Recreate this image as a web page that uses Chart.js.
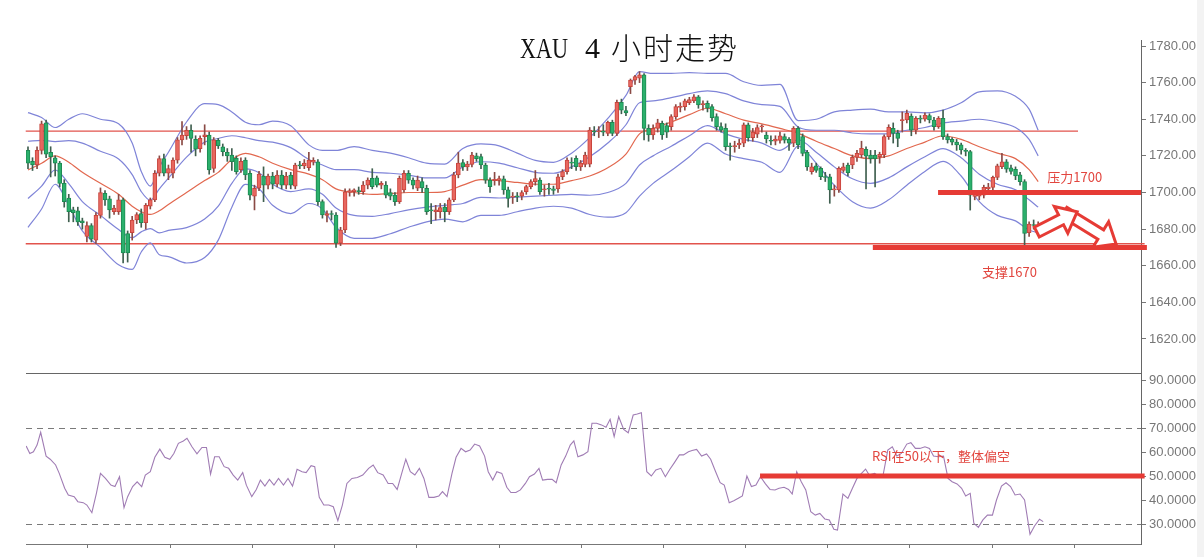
<!DOCTYPE html>
<html>
<head>
<meta charset="utf-8">
<title>XAU 4 小时走势</title>
<script src="https://cdn.jsdelivr.net/npm/chart.js@4.4.1/dist/chart.umd.min.js"></script>
<style>
  html, body { margin: 0; padding: 0; background: #fff; }
  #wrap { position: relative; width: 1204px; height: 557px; overflow: hidden; background: #fff; }
  canvas { position: absolute; left: 0; top: 0; }
  .t { position: absolute; white-space: nowrap; color: #111; line-height: 30px; }
  .lat { font-family: "Liberation Serif", "DejaVu Serif", serif; font-size: 30px; }
  .cjk { font-family: "Noto Sans CJK SC", sans-serif; font-size: 30px; font-weight: 300; letter-spacing: 2px; }
  #edge { position: absolute; left: 1197px; top: 0; width: 7px; height: 557px; background: #f3f3f3; }
</style>
</head>
<body>
<div id="wrap">
  <canvas id="price" width="1204" height="557"></canvas>
  <canvas id="rsi" width="1204" height="557"></canvas>
  <div id="edge"></div>
  <span class="t lat" style="left:520px; top:33px; transform:scaleX(0.74); transform-origin:left;">XAU</span>
  <span class="t lat" style="left:585px; top:33px;">4</span>
  <span class="t cjk" style="left:611px; top:31px;">小时走势</span>
</div>
<script>
// 4h candles, index 0 = first bar on the left
const opens = [
  1723, 1717, 1715, 1723, 1738, 1722, 1719, 1716, 1705, 1697,
  1690.5, 1690, 1684.5, 1676, 1682, 1674, 1687.5, 1699.5, 1696.5, 1689.5,
  1689.5, 1696, 1677.5, 1678, 1685, 1688.5, 1683.5, 1692.5, 1696, 1710.5,
  1718.5, 1710.5, 1710.5, 1717.7, 1728.7, 1731, 1734, 1729, 1724, 1730.5,
  1731.4, 1713.2, 1728.5, 1725, 1722, 1720.5, 1718.7, 1712.5, 1717.7, 1710.5,
  1698, 1702.3, 1709, 1704, 1709, 1704.5, 1709.5, 1704, 1709.5, 1703.5,
  1715, 1714.5, 1713.5, 1716.5, 1716.8, 1695, 1687.5, 1688.5, 1687.7, 1672.3,
  1679.5, 1700, 1700.5, 1701, 1700.4, 1704, 1707.8, 1708, 1704, 1704,
  1700, 1698.6, 1695, 1701.4, 1710.5, 1706.8, 1702.3, 1706, 1702.3, 1690.5,
  1689.5, 1689.5, 1692, 1689.5, 1696, 1709.6, 1716.3, 1714, 1715.4, 1720,
  1719.6, 1715, 1706.8, 1706.5, 1706.8, 1707.4, 1701.4, 1697.5, 1698, 1698,
  1700.4, 1703.2, 1705.9, 1706.8, 1701.5, 1702, 1702, 1701.9, 1708.6, 1711.4,
  1716.5, 1718.7, 1714, 1715.4, 1715.5, 1733.6, 1733.2, 1733.5, 1732.3, 1738.3,
  1732.3, 1749.3, 1744.8, 1757.8, 1761.4, 1762.4, 1764.2, 1735, 1731.5, 1735,
  1737.8, 1736.5, 1736, 1741.4, 1746.5, 1746.9, 1749, 1750, 1752.3, 1748,
  1748.7, 1746.9, 1741.4, 1736, 1735, 1725.3, 1725, 1726, 1726.9, 1736.9,
  1730, 1731.8, 1735.8, 1731.4, 1728.4, 1728, 1728.5, 1730.5, 1729, 1726.9,
  1735, 1730.5, 1722, 1711.4, 1714.5, 1713.2, 1708.6, 1708.6, 1701.4, 1701.4,
  1712, 1715, 1715, 1719.2, 1720.5, 1723.6, 1720.5, 1720.5, 1719.5, 1720.5,
  1730.5, 1735, 1732.3, 1739.2, 1739.6, 1741.8, 1734.1, 1740.4, 1740, 1742,
  1739.6, 1736, 1740.5, 1730.5, 1729, 1727.5, 1726, 1722.8, 1722.3, 1697.8,
  1698, 1698.6, 1702, 1702.8, 1708.3, 1714.1, 1716.8, 1713.5, 1712.7, 1709.6,
  1705.9, 1678, 1682.5, 1681.5
];
const highs = [
  1725, 1719, 1725, 1739, 1739.5, 1725, 1720, 1717, 1707, 1699,
  1692, 1692, 1686, 1684, 1683, 1689, 1702.5, 1701, 1698, 1693,
  1699, 1697, 1679, 1687, 1689, 1691, 1694, 1697, 1712, 1720,
  1721, 1715, 1719, 1730, 1738.7, 1736, 1737, 1731, 1731, 1737,
  1733, 1730, 1729.5, 1726.5, 1724, 1724, 1720, 1719, 1719, 1712,
  1704, 1711.5, 1714, 1710, 1711, 1712, 1712, 1711, 1711, 1716,
  1717, 1718, 1722, 1719, 1718, 1696, 1690, 1690, 1689, 1681,
  1702, 1702, 1702, 1703, 1706, 1708, 1713, 1709, 1706, 1706,
  1702, 1700, 1709, 1712, 1712, 1708, 1709, 1708, 1704, 1694,
  1693, 1694, 1694, 1697, 1711, 1722, 1718, 1717, 1722, 1721.5,
  1721, 1716, 1708, 1711, 1709, 1709, 1703, 1700, 1700, 1701,
  1704, 1707, 1712, 1708, 1704, 1705, 1703.5, 1710, 1712.5, 1719,
  1719, 1720, 1717.5, 1722, 1735.5, 1736, 1736, 1737, 1739, 1739.5,
  1750.5, 1751, 1747, 1762, 1764, 1766, 1765, 1737, 1737, 1740,
  1739, 1738, 1742.5, 1748, 1749, 1751, 1752, 1753.5, 1753, 1750,
  1750, 1748, 1743, 1738, 1737.5, 1727, 1728, 1729, 1738, 1738,
  1735, 1737, 1737, 1733, 1731, 1731, 1733, 1732, 1730, 1736,
  1736, 1732, 1723, 1716, 1716, 1714, 1711, 1710, 1704, 1714,
  1716, 1716, 1720.5, 1723, 1728, 1725, 1723, 1723, 1722, 1731.5,
  1737, 1738, 1734, 1744, 1745, 1743, 1741.5, 1742, 1743.5, 1743,
  1741, 1741.5, 1745, 1732, 1730, 1729, 1727, 1724, 1723, 1701,
  1701, 1704, 1705, 1709, 1715.5, 1721.4, 1718, 1715, 1714, 1711,
  1707, 1684, 1685, 1684
];
const lows = [
  1713, 1712, 1713, 1721, 1719, 1708.5, 1709, 1703, 1692, 1684,
  1684, 1682, 1680, 1673, 1673, 1672, 1686, 1693, 1686, 1688,
  1688, 1661.5, 1662, 1674, 1683, 1681, 1680, 1691, 1695, 1709,
  1709, 1707, 1708, 1716, 1726, 1729, 1722, 1720, 1722, 1726,
  1710, 1711, 1724, 1720, 1717, 1712, 1710, 1711, 1707, 1696,
  1690.5, 1701, 1695, 1702, 1702, 1703, 1702, 1702, 1702, 1702,
  1713, 1713, 1712, 1715, 1693, 1686, 1684, 1685, 1670, 1671,
  1678, 1698, 1698, 1699, 1699, 1702, 1702, 1703, 1702, 1697,
  1696, 1693, 1694, 1700, 1705, 1702, 1701, 1700, 1688, 1683,
  1685, 1686, 1684, 1688, 1695, 1708, 1712, 1712, 1714, 1717,
  1713, 1705, 1700, 1704, 1704, 1699, 1692, 1694, 1695, 1696,
  1699, 1702, 1704, 1699, 1698, 1699, 1699, 1700, 1707, 1710,
  1713, 1712, 1712, 1714, 1714, 1731, 1730, 1731, 1731, 1731,
  1731, 1743, 1742, 1754, 1759, 1760, 1728.7, 1728, 1729, 1733,
  1729, 1730, 1734, 1740, 1744, 1745, 1748, 1749, 1746, 1745,
  1744, 1739, 1734, 1733, 1723, 1717.7, 1722, 1724, 1725, 1728,
  1728, 1730, 1733, 1727, 1726, 1726, 1727, 1727, 1723, 1725,
  1724, 1720, 1712, 1710, 1711, 1707, 1706, 1694.1, 1698, 1700,
  1711, 1709, 1713, 1717, 1719, 1702, 1716, 1703, 1716, 1719,
  1729, 1727, 1725, 1733, 1738, 1731, 1732, 1738, 1739, 1738,
  1734, 1735, 1729, 1727, 1726, 1723, 1721, 1720, 1690.4, 1696,
  1696, 1697, 1700, 1701, 1707, 1713, 1711, 1710, 1707, 1704,
  1670.4, 1676, 1680, 1680
];
const closes = [
  1716, 1715, 1723, 1737.5, 1721, 1719.5, 1716, 1705, 1695, 1689.5,
  1689, 1684, 1683.5, 1682, 1674.5, 1687.5, 1700, 1696, 1690.5, 1691.5,
  1696, 1667, 1667, 1685, 1688, 1683.5, 1693, 1696, 1710.5, 1718.5,
  1710.5, 1713, 1717.7, 1728.7, 1731.4, 1734, 1729.6, 1723.6, 1729.6, 1731.5,
  1712.3, 1728.7, 1725.5, 1722.3, 1720, 1716.8, 1711.4, 1717, 1709.6, 1698.6,
  1702.3, 1710, 1704, 1709, 1704.5, 1709.5, 1704, 1709, 1704, 1715,
  1714.5, 1716, 1717.7, 1717.5, 1695, 1687.7, 1688.5, 1688, 1672.3, 1679.5,
  1700.4, 1701, 1701.5, 1700.4, 1704, 1706.8, 1703.2, 1704, 1705, 1698.6,
  1698, 1695, 1707.8, 1710.5, 1706.8, 1704, 1706.8, 1702.5, 1689.5, 1690,
  1690.5, 1691.7, 1689.5, 1696, 1709.6, 1716, 1714, 1715.5, 1720.5, 1718.5,
  1715, 1706.8, 1703.2, 1707.2, 1707.6, 1701.4, 1696.8, 1697.8, 1697.6, 1700,
  1703.2, 1705.9, 1707.6, 1700.4, 1702, 1701.8, 1701.2, 1708.6, 1711.4, 1717.7,
  1716, 1714.1, 1716, 1720.5, 1734.1, 1733.2, 1733.6, 1733, 1738.3, 1732.3,
  1749.3, 1745, 1743.5, 1761.4, 1763.3, 1764.2, 1735, 1731.4, 1735, 1738,
  1731.4, 1733, 1741.4, 1746.9, 1746.9, 1750, 1750.8, 1752.3, 1747.8, 1748.3,
  1746, 1740.8, 1736, 1734, 1725, 1725, 1725.6, 1727, 1736.9, 1730,
  1733, 1735.4, 1736.2, 1729.2, 1728, 1729.2, 1731, 1728.6, 1727, 1735,
  1726, 1721.4, 1714, 1714, 1712, 1708.6, 1708.2, 1701.4, 1701.8, 1713.2,
  1714, 1710.8, 1719.2, 1721.4, 1724.1, 1719.9, 1718.5, 1718.5, 1720.8, 1730.5,
  1735.6, 1732.3, 1729.6, 1739.8, 1743.2, 1734.1, 1740.5, 1740.1, 1742.3, 1739.6,
  1736, 1740.5, 1730.5, 1728.7, 1727.5, 1726, 1723.2, 1722.5, 1698.6, 1698.8,
  1699.5, 1702.8, 1703, 1708.3, 1714.5, 1716.8, 1712.7, 1711.5, 1709, 1705.9,
  1677.7, 1682.8, 1682, 1682.3
];

// Bollinger lines read at these bar indexes
const bbIdx = [0,3,6,9,12, 16,20,23,25,27, 29,31,35,39,42, 45,48,51,54,58,
  62,65,68,72,76, 80,84,88,92,96, 100,104,108,112,116, 120,124,128,132,135,
  138,142,146,150,154, 158,162,166,170,174, 178,182,186,190,194, 198,202,206,210,214,
  218,221,223];
const bbMid = [1712.3,1716,1720,1716.5,1711, 1705,1699,1692.5,1689.5,1688, 1690,1693.5,1700,1706.5,1711, 1718,1721.4,1719.5,1716,1712.5,
  1710,1707,1702,1700,1699, 1699.5,1700,1700,1700.5,1704, 1707,1706.5,1705.5,1704.5,1704.5, 1706.5,1709,1713.5,1721,1732,
  1735,1738.5,1742.5,1746,1743, 1739.5,1737.5,1735,1732.3,1728, 1724,1720,1718.5,1720,1724, 1727.5,1731,1729,1725,1721.5,
  1718.5,1712.5,1706];
const bbUpper2 = [1743.6,1741,1735.5,1740,1743, 1740,1737.5,1727,1711.5,1703.5, 1714,1722,1738.5,1748.5,1748, 1744,1738.4,1737,1739,1736.5,
  1726,1723,1723,1725,1723, 1721.5,1719,1716,1715.5,1724, 1726.5,1725.5,1721.5,1717.5,1716.5, 1721.5,1730,1740.5,1753,1766,
  1765,1765,1765.5,1765,1765, 1760.5,1758.5,1759,1739.3,1740, 1744,1745,1745.5,1744,1744, 1743.5,1745,1749,1755,1755.5,
  1752.5,1745.5,1734];
const bbUpper1 = [1728,1728.5,1727.8,1728.3,1727, 1722.5,1718.3,1709.8,1700.5,1695.8, 1702,1707.8,1719.3,1727.5,1729.5, 1731,1729.9,1728.3,1727.5,1724.5,
  1718,1715,1712.5,1712.5,1711, 1710.5,1709.5,1708,1708,1714, 1716.8,1716,1713.5,1711,1710.5, 1714,1719.5,1727,1737,1749,
  1750,1751.8,1754,1755.5,1754, 1750,1748,1747,1735.8,1734, 1734,1732.5,1732,1732,1734, 1735.5,1738,1739,1740,1738.5,
  1735.5,1729,1720];
const bbLower1 = [1696.7,1703.5,1712.3,1704.8,1695, 1687.5,1679.8,1675.3,1678.5,1680.3, 1678,1679.3,1680.8,1685.5,1692.5, 1705,1712.9,1710.8,1704.5,1700.5,
  1702,1699,1691.5,1687.5,1687, 1688.5,1690.5,1692,1693,1694, 1697.3,1697,1697.5,1698,1698.5, 1699,1698.5,1700,1705,1715,
  1720,1725.3,1731,1736.5,1732, 1729,1727,1723,1728.8,1722, 1714,1707.5,1705,1708,1714, 1719.5,1724,1719,1710,1704.5,
  1701.5,1696,1692];
const bbLower2 = [1681,1691,1704.5,1693,1679, 1670,1660.5,1658,1667.5,1672.5, 1666,1665,1661.5,1664.5,1674, 1692,1704.4,1702,1693,1688.5,
  1694,1691,1681,1675,1675, 1677.5,1681,1684,1685.5,1684, 1687.5,1687.5,1689.5,1691.5,1692.5, 1691.5,1688,1686.5,1689,1698,
  1705,1712,1719.5,1727,1721, 1718.5,1716.5,1711,1725.3,1716, 1704,1695,1691.5,1696,1704, 1711.5,1717,1709,1695,1687.5,
  1684.5,1679.5,1678];

// RSI line, read at these bar positions
const rsiIdx = [-0.4,0.4,1.2,2.0,2.8,4.0,4.9,6.1,6.9,8.1, 8.9,10.2,11.0,12.2,13.0,14.1,15.1,16.0,17.1,18.3,
  19.2,20.2,21.2,22.0,23.1,24.1,25.1,25.9,27.0,28.0, 29.1,30.2,31.3,32.2,33.2,34.3,35.1,36.2,37.3,38.4,
  39.4,40.3,41.2,42.2,43.3,44.3,45.3,46.3,47.4,48.2, 49.4,50.4,51.3,52.3,53.3,54.3,55.3,56.4,57.4,58.4,
  59.4,60.5,61.4,62.5,63.3,64.3,65.3,66.4,67.4,68.4, 69.4,70.4,71.5,72.7,73.9,75.2,76.2,77.2,78.4,79.5,
  80.5,81.5,82.5,83.4,84.4,85.4,86.4,87.4,88.5,89.6, 90.7,91.5,92.5,93.6,94.5,95.6,96.6,97.6,98.6,99.7,
  100.8,101.6,102.6,103.5,104.6,105.7,106.6,107.7,108.7,109.8, 110.7,111.8,112.8,113.6,114.7,115.7,116.6,117.7,118.7,119.7,
  120.5,121.4,122.5,123.6,124.5,125.5,126.6,127.6,128.5,129.4, 130.4,131.5,132.5,133.6,134.5,135.4,136.6,137.6,138.6,139.7,
  140.7,141.7,142.7,143.8,144.7,145.8,146.6,147.6,148.7,149.8, 150.7,151.8,152.8,153.7,154.8,155.8,156.8,157.7,158.7,159.7,
  160.7,161.7,162.8,163.8,164.9,165.8,166.9,167.9,168.7,169.7, 170.7,171.7,172.8,173.8,174.8,175.9,176.9,177.9,178.7,179.9,
  181.0,182.0,183.0,184.0,184.9,185.7,186.9,188.0,188.7,189.8, 190.8,191.8,192.8,194.0,194.9,195.9,196.9,198.0,199.0,199.9,
  201.0,202.1,203.1,204.0,205.1,206.1,207.0,208.0,208.8,209.8, 210.8,211.8,212.9,213.8,214.9,215.9,216.9,217.9,219.0,220.0,
  221.2,222.2,223.3,224.1];
const rsiVals = [62.5,59.4,60.1,62.9,68.2,58.3,57.0,54.6,51.1,44.9, 42.1,41.4,39.3,38.9,37.9,34.7,42.8,51.1,49.0,46.2,
  45.6,49.7,36.8,41.4,45.6,47.6,45.6,50.4,51.8,57.8, 61.2,57.8,57.0,59.4,63.6,64.6,65.7,62.2,59.2,61.9,
  61.9,50.8,58.0,58.0,53.9,53.2,50.4,48.3,51.4,46.2, 41.4,44.4,48.3,45.8,48.6,46.2,49.0,46.2,49.0,45.8,
  52.8,51.8,51.4,54.3,53.9,41.1,37.9,37.9,37.2,31.4, 37.9,46.9,49.0,49.4,50.4,53.2,54.6,51.4,50.4,46.9,
  46.9,44.4,51.1,57.0,51.8,50.4,53.2,49.0,41.1,41.1, 41.7,43.5,41.4,51.1,57.8,61.5,60.1,60.8,63.3,62.5,
  58.3,51.8,48.3,51.8,51.1,45.3,43.1,43.1,44.2,46.9, 49.7,50.8,53.2,48.3,48.6,48.6,47.2,54.6,58.3,62.9,
  64.6,58.0,58.8,60.1,72.0,72.0,71.3,70.3,73.6,66.4, 74.7,69.4,68.0,75.4,75.8,76.4,51.8,50.0,52.5,53.2,
  49.7,52.8,55.6,58.8,58.8,60.1,60.6,61.1,58.3,59.2, 57.0,51.8,47.2,46.2,38.9,39.7,40.7,41.7,50.0,45.6,
  46.2,49.7,46.7,44.4,44.2,44.9,45.3,44.4,42.5,51.8, 47.6,44.2,35.1,33.7,34.4,32.1,31.7,27.8,27.5,42.5,
  40.7,44.9,49.0,51.1,52.9,50.4,51.1,49.7,49.7,60.8, 62.2,58.3,59.4,63.3,63.9,61.5,61.5,62.2,61.5,58.3,
  58.0,58.3,49.0,47.6,46.7,44.9,41.7,42.8,30.3,28.6, 31.7,33.7,33.7,40.0,45.8,47.2,45.6,42.1,42.5,40.0,
  25.7,29.2,32.0,31.0];

const priceTicks = [1620, 1640, 1660, 1680, 1700, 1720, 1740, 1760, 1780];
const rsiTicks = [30, 40, 50, 60, 70, 80, 90];
const timeTicks = [13.2, 31.4, 49.5, 67.7, 85.8, 104, 122.1, 140.3, 158.4, 176.6, 194.7, 212.9, 231];

// drawn levels / notes (bar index, value)
const channel = [ { v: 1733.5, from: -0.5, to: 231.8 }, { v: 1672, from: -0.5, to: 246.5 } ];
const levels = [ { v: 1700, from: 200.9, to: 245.7 }, { v: 1670, from: 186.5, to: 247 } ];
const notes = [ { text: '压力1700', i: 225, v: 1708.6 }, { text: '支撑1670', i: 210.6, v: 1656.4 } ];
const arrows = [
  { from: [228.7, 1689.4], to: [240.2, 1671.9] },
  { from: [222.7, 1678.4], to: [231.6, 1689.5] }
];
const rsiLevel = { v: 50, from: 161.6, to: 246.5 };
const rsiNote = { text: 'RSI在50以下，整体偏空', i: 186.3, v: 58.3 };
const rsiGuides = [70, 30];

const X_MIN = -0.44, X_MAX = 245.7;
const RED = '#e63b35';

const up = closes.map((c, i) => c >= opens[i]);
const bodies = opens.map((o, i) => ({ x: i, y: [o, closes[i]] }));
const wicks = lows.map((l, i) => ({ x: i, y: [l, highs[i]] }));
const band = vals => vals.map((v, k) => ({ x: bbIdx[k], y: v }));

function drawArrow(ctx, x0, y0, x1, y1) {
  const dx = x1 - x0, dy = y1 - y0, len = Math.hypot(dx, dy);
  const ux = dx / len, uy = dy / len, nx = -uy, ny = ux;
  const s = 5.5, h = 15, L = 18;
  const bx = x1 - ux * L, by = y1 - uy * L;
  ctx.beginPath();
  ctx.moveTo(x0 + nx * s, y0 + ny * s);
  ctx.lineTo(bx + nx * s, by + ny * s);
  ctx.lineTo(bx + nx * h, by + ny * h);
  ctx.lineTo(x1, y1);
  ctx.lineTo(bx - nx * h, by - ny * h);
  ctx.lineTo(bx - nx * s, by - ny * s);
  ctx.lineTo(x0 - nx * s, y0 - ny * s);
  ctx.closePath();
  ctx.fillStyle = '#fff';
  ctx.fill();
  ctx.stroke();
}

const priceMarks = {
  id: 'priceMarks',
  beforeDatasetsDraw(chart) {
    const { ctx, scales: { x, y } } = chart;
    ctx.save();
    ctx.strokeStyle = '#e2534c';
    ctx.lineWidth = 1.4;
    channel.forEach(l => {
      ctx.beginPath();
      ctx.moveTo(x.getPixelForValue(l.from), y.getPixelForValue(l.v));
      ctx.lineTo(x.getPixelForValue(l.to), y.getPixelForValue(l.v));
      ctx.stroke();
    });
    ctx.restore();
  },
  afterDatasetsDraw(chart) {
    const { ctx, scales: { x, y } } = chart;
    ctx.save();
    ctx.strokeStyle = RED;
    ctx.lineWidth = 5;
    levels.forEach(l => {
      ctx.beginPath();
      ctx.moveTo(x.getPixelForValue(l.from), y.getPixelForValue(l.v));
      ctx.lineTo(x.getPixelForValue(l.to), y.getPixelForValue(l.v));
      ctx.stroke();
    });
    ctx.lineWidth = 3;
    ctx.lineJoin = 'miter';
    arrows.forEach(a => drawArrow(ctx,
      x.getPixelForValue(a.from[0]), y.getPixelForValue(a.from[1]),
      x.getPixelForValue(a.to[0]), y.getPixelForValue(a.to[1])));
    ctx.fillStyle = '#e2463f';
    ctx.font = '13px "Noto Sans CJK SC", sans-serif';
    ctx.textBaseline = 'middle';
    notes.forEach(n => ctx.fillText(n.text, x.getPixelForValue(n.i), y.getPixelForValue(n.v)));
    ctx.restore();
  }
};

const rsiMarks = {
  id: 'rsiMarks',
  beforeDatasetsDraw(chart) {
    const { ctx, chartArea, scales: { y } } = chart;
    ctx.save();
    ctx.strokeStyle = '#7a7a7a';
    ctx.lineWidth = 1;
    ctx.setLineDash([6, 5]);
    rsiGuides.forEach(v => {
      const py = Math.round(y.getPixelForValue(v)) + 0.5;
      ctx.beginPath();
      ctx.moveTo(chartArea.left, py);
      ctx.lineTo(chartArea.right, py);
      ctx.stroke();
    });
    ctx.restore();
  },
  afterDatasetsDraw(chart) {
    const { ctx, scales: { x, y } } = chart;
    ctx.save();
    ctx.strokeStyle = RED;
    ctx.lineWidth = 5;
    ctx.beginPath();
    ctx.moveTo(x.getPixelForValue(rsiLevel.from), y.getPixelForValue(rsiLevel.v));
    ctx.lineTo(x.getPixelForValue(rsiLevel.to), y.getPixelForValue(rsiLevel.v));
    ctx.stroke();
    ctx.fillStyle = '#e2463f';
    ctx.font = '13px "Noto Sans CJK SC", sans-serif';
    ctx.textBaseline = 'middle';
    ctx.fillText(rsiNote.text, x.getPixelForValue(rsiNote.i), y.getPixelForValue(rsiNote.v));
    ctx.restore();
  }
};

const axisFont = { family: '"Liberation Sans", Arial, sans-serif', size: 13 };

const bandLine = (vals, color, order) => ({
  type: 'line', data: band(vals), borderColor: color, borderWidth: 1.2,
  pointRadius: 0, cubicInterpolationMode: 'monotone', order
});

new Chart(document.getElementById('price'), {
  type: 'bar',
  data: {
    datasets: [
      {
        data: bodies,
        backgroundColor: up.map(u => u ? '#e8675f' : '#2bb06c'),
        borderColor: up.map(u => u ? '#c8443c' : '#1d8a52'),
        borderWidth: 1, borderSkipped: false, barThickness: 4, minBarLength: 1,
        grouped: false, order: 1
      },
      {
        data: wicks,
        backgroundColor: up.map(u => u ? '#8a4a45' : '#3f5f4f'),
        barThickness: 1, grouped: false, order: 2
      },
      bandLine(bbUpper2, '#7f84d8', 3),
      bandLine(bbUpper1, '#7f84d8', 4),
      bandLine(bbMid, '#e2684f', 5),
      bandLine(bbLower1, '#7f84d8', 6),
      bandLine(bbLower2, '#7f84d8', 7)
    ]
  },
  options: {
    responsive: false,
    animation: false,
    devicePixelRatio: 1,
    layout: { padding: { left: 26, top: 40, right: 0, bottom: 0 } },
    plugins: { legend: { display: false }, tooltip: { enabled: false } },
    scales: {
      x: {
        type: 'linear', min: X_MIN, max: X_MAX, offset: false,
        grid: { display: false },
        border: { display: true, color: '#666' },
        ticks: { display: false },
        afterFit(s) { s.height = 184; }
      },
      y: {
        position: 'right', min: 1601.43, max: 1783.28,
        afterBuildTicks(s) { s.ticks = priceTicks.map(v => ({ value: v })); },
        ticks: { callback: v => Number(v).toFixed(2), color: '#777', font: axisFont, padding: 3, autoSkip: false },
        grid: { drawOnChartArea: false, tickLength: 5, color: '#777' },
        border: { display: true, color: '#666' },
        afterFit(s) { s.width = 63; }
      }
    }
  },
  plugins: [priceMarks]
});

new Chart(document.getElementById('rsi'), {
  type: 'line',
  data: {
    datasets: [{
      data: rsiIdx.map((i, k) => ({ x: i, y: rsiVals[k] })),
      borderColor: '#a07cb4', borderWidth: 1.1, pointRadius: 0, tension: 0
    }]
  },
  options: {
    responsive: false,
    animation: false,
    devicePixelRatio: 1,
    layout: { padding: { left: 26, top: 373, right: 0, bottom: 0 } },
    plugins: { legend: { display: false }, tooltip: { enabled: false } },
    scales: {
      x: {
        type: 'linear', min: X_MIN, max: X_MAX, offset: false,
        afterBuildTicks(s) { s.ticks = timeTicks.map(v => ({ value: v })); },
        ticks: { callback: () => '', autoSkip: false },
        grid: { display: true, drawOnChartArea: false, drawTicks: true, tickLength: 4, color: '#777' },
        border: { display: true, color: '#777' },
        afterFit(s) { s.height = 13; }
      },
      y: {
        position: 'right', min: 21.67, max: 92.92,
        afterBuildTicks(s) { s.ticks = rsiTicks.map(v => ({ value: v })); },
        ticks: { callback: v => Number(v).toFixed(4), color: '#777', font: axisFont, padding: 3, autoSkip: false },
        grid: { drawOnChartArea: false, tickLength: 5, color: '#777' },
        border: { display: true, color: '#666' },
        afterFit(s) { s.width = 63; }
      }
    }
  },
  plugins: [rsiMarks]
});
</script>
</body>
</html>
